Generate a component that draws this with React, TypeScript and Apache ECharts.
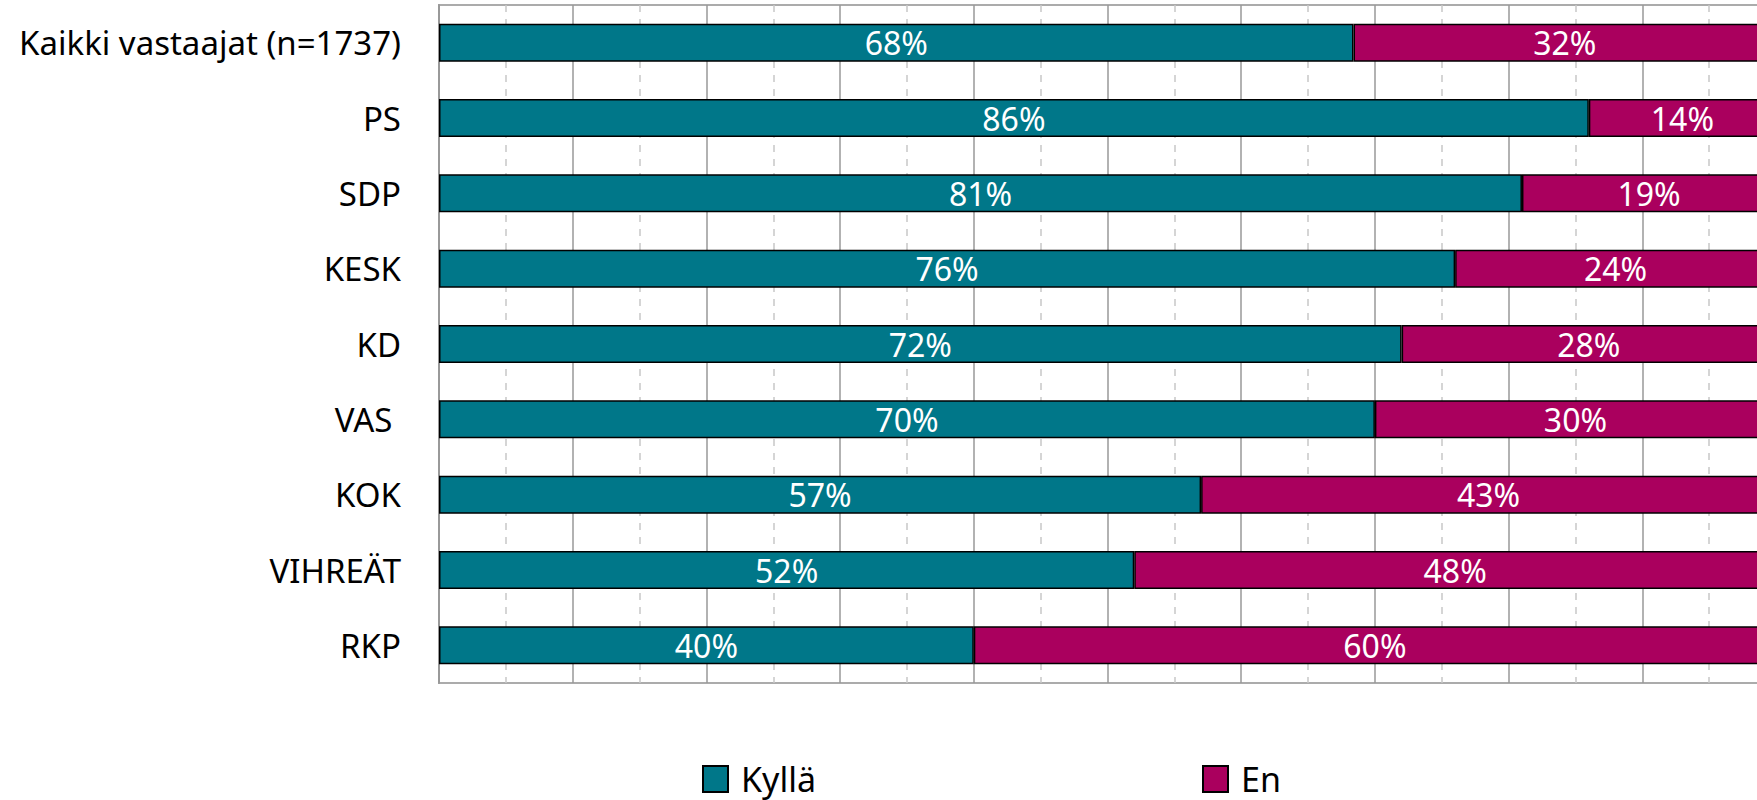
import React, { useEffect, useRef } from "react";
import * as echarts from "echarts";

const categories = [
  "Kaikki vastaajat (n=1737)",
  "PS",
  "SDP",
  "KESK",
  "KD",
  "VAS ",
  "KOK",
  "VIHREÄT",
  "RKP",
];
const kylla = [68.4, 86, 81, 76, 72, 70, 57, 52, 40];
const en = [31.6, 14, 19, 24, 28, 30, 43, 48, 60];
const seriesNames = ["Kyllä", "En"];
const colors = ["#007789", "#AA005E"];

export default function App() {
  const ref = useRef<HTMLDivElement>(null);
  useEffect(() => {
    if (!ref.current) return;
    const chart = echarts.init(ref.current, null, { renderer: "svg" });
    const labelCfg = {
      show: true,
      position: "inside",
      color: "#fff",
      fontSize: 32,
      fontFamily: "Noto Sans",
      formatter: (p: any) => Math.round(p.value) + "%",
    };
    const legendBase = {
      top: 757,
      itemWidth: 25,
      itemHeight: 26,
      icon: "rect",
      textStyle: {
        fontSize: 34,
        lineHeight: 34,
        color: "#000",
        fontFamily: "Noto Sans",
        padding: [0, 0, 0, 8],
      },
    };
    chart.setOption({
      animation: false,
      textStyle: { fontFamily: "Noto Sans" },
      grid: {
        left: 439,
        top: 5,
        right: 0,
        bottom: 117,
        show: true,
        borderColor: "#ababab",
        borderWidth: 2,
      },
      legend: [
        { ...legendBase, left: 697, data: [seriesNames[0]] },
        { ...legendBase, left: 1197, data: [seriesNames[1]] },
      ],
      xAxis: {
        type: "value",
        min: 0,
        max: 100,
        interval: 10,
        axisLabel: { show: false },
        axisTick: { show: false },
        axisLine: { show: false },
        splitLine: { show: true, lineStyle: { color: "#999", width: 1.5 } },
        minorTick: { show: false, splitNumber: 2 },
        minorSplitLine: { show: true, lineStyle: { color: "#c8c8c8", width: 1.5, type: [7, 7] } },
      },
      yAxis: {
        type: "category",
        inverse: true,
        data: categories,
        axisTick: { show: false },
        axisLine: { show: true, lineStyle: { color: "#999", width: 2 } },
        axisLabel: { fontSize: 33, color: "#000", margin: 38, fontFamily: "Noto Sans" },
      },
      series: [
        {
          name: seriesNames[0],
          type: "bar",
          stack: "total",
          data: kylla,
          barWidth: 38,
          itemStyle: { color: colors[0], borderColor: "#000", borderWidth: 1.5 },
          label: labelCfg,
        },
        {
          name: seriesNames[1],
          type: "bar",
          stack: "total",
          data: en,
          barWidth: 38,
          itemStyle: { color: colors[1], borderColor: "#000", borderWidth: 1.5 },
          label: labelCfg,
        },
      ],
    });
    return () => chart.dispose();
  }, []);
  return (
    <div
      style={{
        position: "fixed",
        left: 0,
        top: 0,
        width: 1757,
        height: 800,
        overflow: "hidden",
        background: "#fff",
      }}
    >
      <div ref={ref} style={{ width: 1776, height: 800 }} />
    </div>
  );
}
